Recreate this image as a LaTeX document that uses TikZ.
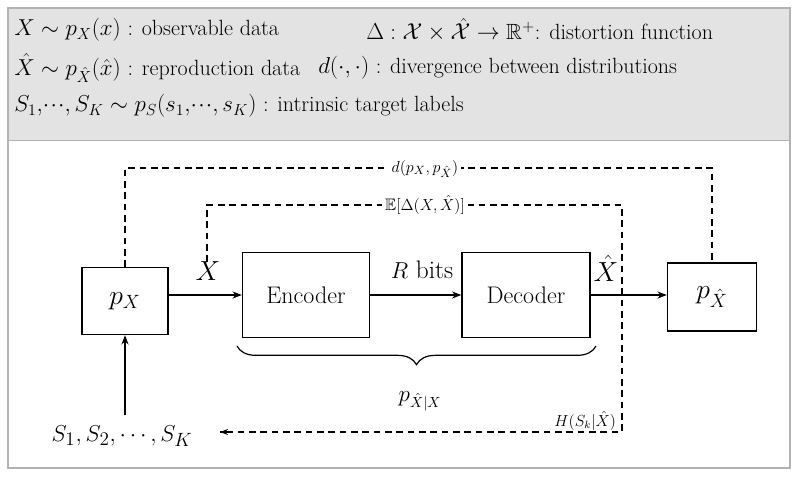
\documentclass[tikz,border=0pt]{standalone}
\usepackage{amssymb}
\usetikzlibrary{arrows.meta,decorations.pathreplacing}
\newcommand{\fs}[1]{\fontsize{#1}{#1}\selectfont}
\begin{document}
\begin{tikzpicture}[x=0.75pt,y=-0.75pt,
  box/.style={draw,line width=1pt,minimum width=#1,inner sep=0pt},
  dsh/.style={draw,line width=0.9pt,dash pattern=on 5pt off 3.5pt},
  arr/.style={-{Stealth[length=7pt]},line width=1.1pt},
  hdr/.style={anchor=west,font=\fs{16.5},inner sep=0pt}]
\useasboundingbox (0,0) rectangle (798,480);
\fill[gray!22] (8,8) rectangle (790,140);
\draw[gray!60,line width=1pt] (8,8) rectangle (790,468);
\draw[gray!60] (8,140) -- (790,140);
\node[hdr] (h1) at (14,30) {$X\sim p_X(x)$ : observable data};
\node[hdr] (h2) at (366,30) {$\Delta:\mathcal{X}\times\hat{\mathcal{X}}\to\mathbb{R}^+$: distortion function};
\node[hdr] (h3) at (14,68) {$\hat X\sim p_{\hat X}(\hat x)$ : reproduction data};
\node[hdr] (h4) at (318,68) {$d(\cdot,\cdot)$ : divergence between distributions};
\node[hdr] (h5) at (14,106) {$S_1,\!\cdot\!\cdot\!\cdot,S_K\sim p_S(s_1,\!\cdot\!\cdot\!\cdot,s_K)$ : intrinsic target labels};

\node[box=86pt*0.75,minimum height=67pt*0.75,font=\fs{22}] (px) at (125,301) {$p_X$};
\node[box=127pt*0.75,minimum height=85pt*0.75,font=\fs{18}] (enc) at (306,295) {Encoder};
\node[box=128pt*0.75,minimum height=85pt*0.75,font=\fs{18}] (dec) at (526,295) {Decoder};
\node[box=89pt*0.75,minimum height=68pt*0.75,font=\fs{20}] (pxh) at (712,297) {$p_{\hat X}$};

\draw[arr] (px.east|-enc) -- (enc.west);
\draw[arr] (enc) -- (dec);
\draw[arr] (dec.east) -- (pxh.west|-dec);
\node[font=\fs{21}] (lx) at (208,271) {$X$};
\node[font=\fs{19}] (lr) at (422,270) {$R$ bits};
\node[font=\fs{21}] (lxh) at (606,268) {$\hat X$};

\coordinate (o1) at (125,168); \coordinate (o2) at (712,168);
\draw[dsh] (px.north) -- (o1) -- (o2) -- (pxh.north);
\node[fill=white,inner sep=2pt,font=\fs{12.5}] (ld) at (425,169) {$d(p_X,p_{\hat X})$};
\coordinate (i0) at (207,262); \coordinate (i1) at (207,205); \coordinate (i2) at (622,205);
\coordinate (i3) at (622,432); \coordinate (i4) at (220,432);
\draw[dsh] (i0) -- (i1) -- (i2) -- (i3) -- (i4);
\draw[-{Stealth[length=6pt]},line width=0.9pt] (i4) ++(8,0) -- (i4);
\node[fill=white,inner sep=2pt,font=\fs{12.5}] (le) at (425,205) {$\mathbb{E}[\Delta(X,\hat X)]$};
\node[font=\fs{11.5},anchor=south east,inner sep=2pt] (lh) at (619,433) {$H(S_k|\hat X)$};

\draw[decorate,decoration={brace,mirror,amplitude=14pt},line width=0.9pt] (237,346) -- (596,346);
\node[font=\fs{16}] (lp) at (420,401) {$p_{\hat X|X}$};

\node[font=\fs{19}] (s) at (122,436) {$S_1,S_2,\cdots,S_K$};
\draw[arr,line width=0.9pt] (125,415) -- (px.south);
\end{tikzpicture}
\end{document}
